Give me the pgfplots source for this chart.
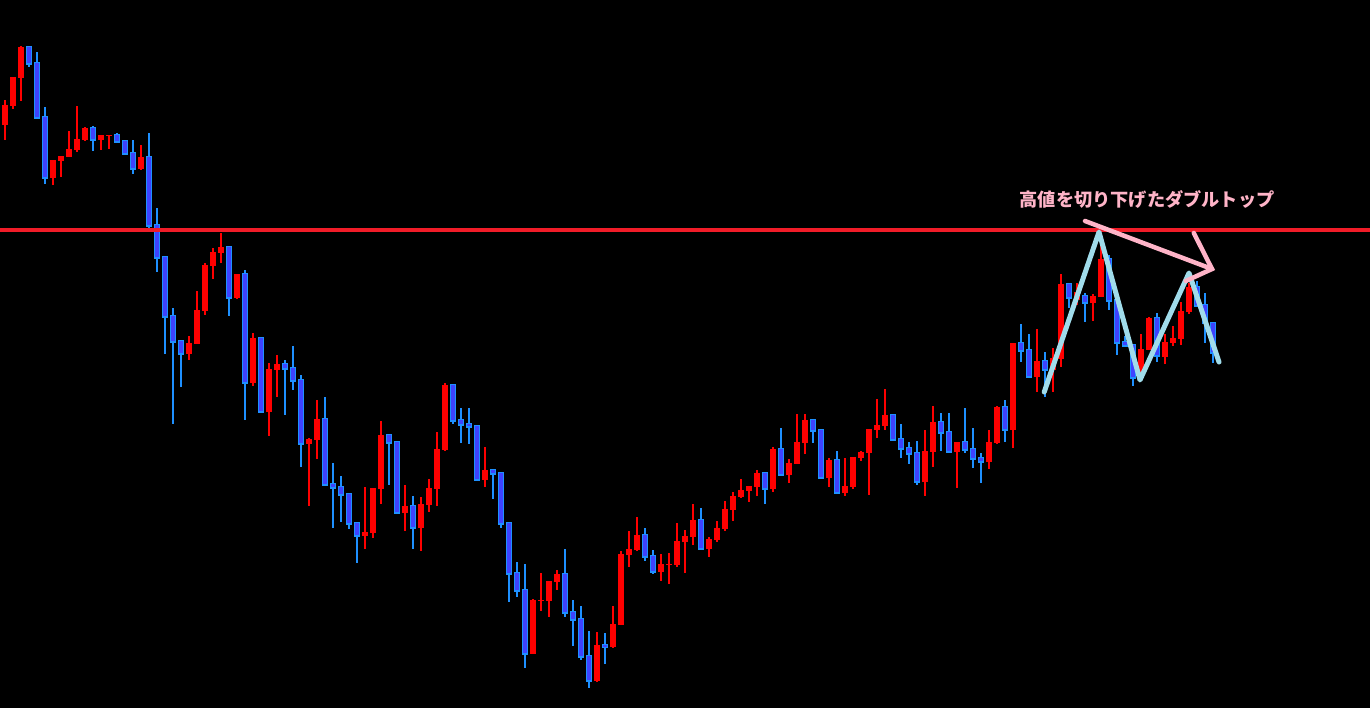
\documentclass[border=0pt]{standalone}
\usepackage{pgfplots}
\pgfplotsset{compat=1.18}
\usepackage{pgfplotstable}
\usepackage{fontspec}
\newfontfamily\cjk{Noto Sans CJK JP}
\definecolor{upc}{RGB}{255,0,0}
\definecolor{downfill}{RGB}{62,66,255}
\definecolor{downedge}{RGB}{30,144,255}
\definecolor{levelred}{RGB}{240,28,40}
\definecolor{zig}{RGB}{160,220,235}
\definecolor{pinkarrow}{RGB}{255,180,200}

% pixel-scale prices (y grows downward): i open high low close
\pgfplotstableread{
i o h l c
0 125 100 140 105
1 106 77 109 77
2 78 46 101 47
6 178 160 185 160
7 161 156 177 156
8 157 131 157 149
9 150 106 152 139
10 140 127 141 128
12 140 135 150 135
13 135.5 135 149 135
17 169 145 170 157
23 354 336 360 343
24 344 291 344 310
25 311 263 315 265
26 266 248 279 252
27 253 233 263 247
29 298 274 299 274
31 383 333 386 338
33 412 363 436 369
34 370 355 397 364
38 444 438 506 439
39 440 400 459 419
45 536 487 549 532
46 533 488 538 488
47 489 421 504 435
50 513 485 531 506
52 528 497 551 504
53 505 479 512 488
54 489 432 506 449
55 450 383 451 385
60 480 447 487 470
66 654 599 654 600
67 600.5 573 611 600
68 601 581 617 581
69 582 570 590 574
74 681 632 682 645
76 647 606 648 624
77 625 551 625 554
78 555 531 567 549
79 550 517 551 535
82 572 554 581 564
83 564.5 553 584 564
84 565 523 567 541
85 542 530 573 536
86 537 504 545 520
88 549 537 557 539
89 540 521 542 528
90 529 501 531 509
91 510 492 521 496
92 497 479 498 490
93 491 486 502 486
94 487 470 496 473
96 489 447 492 449
98 475 459 483 463
99 464 414 464 442
100 443 414 454 420
103 478 458 487 460
105 493 458 496 486
106 487 457 489 457
107 458 451 461 452
108 453 429 495 429
109 430 399 438 425
110 426 389 430 415
115 482 430 496 451
116 452 406 467 422
119 452 442 488 442
123 462 430 469 442
124 443 406 444 407
126 430 343 448 343
129 377 329 392 361
131 370 348 392 358
132 359 274 367 284
134 300 283 305 292
136 303 294 321 296
137 297 246 297 259
142 378 334 380 349
143 350 317 350 318
145 357 334 364 342
146 343 326 346 338
147 339 302 345 311
148 312 283 314 287
}\up

\pgfplotstableread{
i o h l c
3 47 47 67 64
4 63 52 119 118
5 117 107 184 178
11 128 126 151 140
14 135 133 142 142
15 141 140 155 154
16 153 140 174 169
18 157 133 228 226
19 225 208 272 258
20 257 257 354 317
21 316 308 424 342
22 341 341 387 354
28 247 246 316 298
30 274 270 420 383
32 338 338 413 412
35 364 360 415 369
36 368 346 390 381
37 380 375 467 444
40 419 397 486 485
41 484 463 528 488
42 487 476 522 495
43 494 494 529 524
44 523 523 563 536
48 435 435 485 443
49 442 442 514 513
51 506 496 549 528
56 385 385 424 421
57 420 408 443 425
58 424 408 444 427
59 426 426 480 480
61 470 470 499 474
62 473 472 528 524
63 523 523 602 574
64 573 562 597 591
65 590 564 668 654
70 574 549 617 613
71 612 600 646 620
72 619 606 660 657
73 656 631 688 681
75 645 633 664 647
80 535 528 561 557
81 556 550 574 572
87 520 508 550 549
95 473 473 504 489
97 449 428 475 475
101 420 419 443 431
102 430 429 478 478
104 460 451 494 493
111 415 414 440 440
112 439 424 458 449
113 448 442 464 454
114 453 441 485 482
117 422 413 451 433
118 432 413 452 452
120 442 408 453 450
121 449 428 468 459
122 458 453 483 462
125 407 400 442 430
127 343 324 362 351
128 350 334 378 377
130 361 352 397 370
133 284 284 308 298
135 296 293 322 303
138 259 255 310 301
139 300 300 355 343
140 342 336 346 346
141 345 345 386 378
144 318 313 362 356
149 287 281 306 306
150 305 293 343 323
151 323 323 363 353
}\down

\begin{document}
\begin{tikzpicture}
\begin{axis}[
  scale only axis, width=1370pt, height=708pt,
  xmin=-0.625, xmax=170.625, ymin=0, ymax=708,
  y dir=reverse,
  axis background/.style={fill=black},
  axis line style={draw=none},
  ticks=none,
]
% wicks
\addplot[draw=none, mark=none, forget plot,
  error bars/.cd, y dir=both, y explicit, error mark=none,
  error bar style={draw=upc, line width=1.1pt}]
  table[x=i, y expr={(\thisrow{h}+\thisrow{l})/2}, y error expr={(\thisrow{l}-\thisrow{h})/2}] {\up};
\addplot[draw=none, mark=none, forget plot,
  error bars/.cd, y dir=both, y explicit, error mark=none,
  error bar style={draw=downedge, line width=1.1pt}]
  table[x=i, y expr={(\thisrow{h}+\thisrow{l})/2}, y error expr={(\thisrow{l}-\thisrow{h})/2}] {\down};
% bodies
\addplot[draw=none, mark=none, forget plot,
  error bars/.cd, y dir=both, y explicit, error mark=none,
  error bar style={draw=upc, line width=5.6pt}]
  table[x=i, y expr={(\thisrow{o}+\thisrow{c})/2}, y error expr={max(abs(\thisrow{o}-\thisrow{c})/2,0.7)}] {\up};
\addplot[draw=none, mark=none, forget plot,
  error bars/.cd, y dir=both, y explicit, error mark=none,
  error bar style={draw=downedge, line width=5.8pt}]
  table[x=i, y expr={(\thisrow{o}+\thisrow{c})/2}, y error expr={abs(\thisrow{o}-\thisrow{c})/2+0.6}] {\down};
\addplot[draw=none, mark=none, forget plot,
  error bars/.cd, y dir=both, y explicit, error mark=none,
  error bar style={draw=downfill, line width=3.8pt}]
  table[x=i, y expr={(\thisrow{o}+\thisrow{c})/2}, y error expr={max(abs(\thisrow{o}-\thisrow{c})/2-0.5,0)}] {\down};
% resistance line
\addplot[levelred, line width=4.5pt, mark=none] coordinates {(-1,230) (172,230)};
% double top zigzag
\addplot[zig, line width=5pt, mark=none, line join=round, line cap=round]
  coordinates {(129.9,392) (136.75,232) (141.875,380) (148,273) (151.75,362)};
% arrow
\addplot[pinkarrow, line width=4.5pt, mark=none, line cap=round]
  coordinates {(135,221) (150.875,269)};
\addplot[pinkarrow, line width=4.5pt, mark=none, line join=miter, line cap=round]
  coordinates {(148.6,233) (150.875,269) (147.6,281)};
\node[text=pinkarrow, font=\cjk\bfseries\fontsize{18.2pt}{20pt}\selectfont] at (axis cs:142.75,199) {高値を切り下げたダブルトップ};
\end{axis}
\end{tikzpicture}
\end{document}
